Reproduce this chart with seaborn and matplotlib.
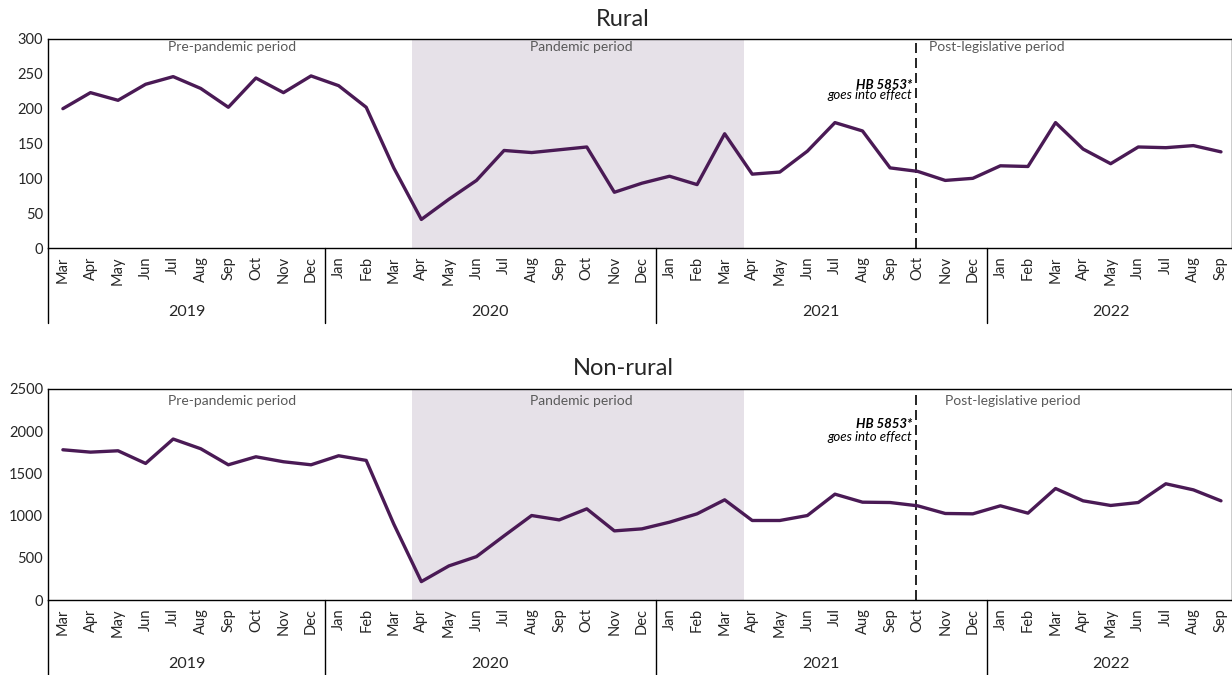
import pandas as pd
import matplotlib.pyplot as plt
import seaborn as sns

months = ['Mar', 'Apr', 'May', 'Jun', 'Jul', 'Aug', 'Sep', 'Oct', 'Nov', 'Dec',
          'Jan', 'Feb', 'Mar', 'Apr', 'May', 'Jun', 'Jul', 'Aug', 'Sep', 'Oct', 'Nov', 'Dec',
          'Jan', 'Feb', 'Mar', 'Apr', 'May', 'Jun', 'Jul', 'Aug', 'Sep', 'Oct', 'Nov', 'Dec',
          'Jan', 'Feb', 'Mar', 'Apr', 'May', 'Jun', 'Jul', 'Aug', 'Sep']
years = ['2019', '2020', '2021', '2022']
year_centers = [4.5, 15.5, 27.5, 38]
year_breaks = [9.5, 21.5, 33.5]

rural = [200, 223, 212, 235, 246, 229, 202, 244, 223, 247,
         233, 202, 115, 41, 70, 97, 140, 137, 141, 145, 80, 93,
         103, 91, 164, 106, 109, 139, 180, 168, 115, 110, 97, 100,
         118, 117, 180, 142, 121, 145, 144, 147, 138]
nonrural = [1780, 1752, 1768, 1618, 1907, 1792, 1602, 1697, 1638, 1602,
            1709, 1654, 900, 218, 404, 514, 760, 1001, 949, 1080, 819, 843,
            922, 1021, 1187, 942, 942, 1001, 1254, 1159, 1155, 1116, 1025, 1021,
            1116, 1029, 1321, 1175, 1120, 1155, 1377, 1305, 1175]

sns.set_style('white')
plt.rcParams['font.family'] = ['Lato', 'DejaVu Sans']

line_color = '#4a1a55'
shade_color = '#e6e1e8'
note_color = '#595959'

fig = plt.figure(figsize=(12.32, 6.75), dpi=100)
W, H = 1232, 675

panels = [
    ('Rural', rural, 39, 248, 300, 50, 0.962, 0.78, 0.732, 31.4),
    ('Non-rural', nonrural, 389, 600, 2500, 500, 0.943, 0.834, 0.773, 32.0),
]

for title, vals, top, bottom, ymax, ystep, lab_y, hb_y, eff_y, post_x in panels:
    ax = fig.add_axes([48 / W, 1 - bottom / H, 1184 / W, (bottom - top) / H])
    df = pd.DataFrame({'idx': range(len(vals)), 'value': vals})
    ax.axvspan(12.66, 24.7, color=shade_color, lw=0, zorder=0)
    sns.lineplot(data=df, x='idx', y='value', ax=ax, color=line_color, lw=2.4, zorder=3)
    ax.axvline(30.95, color='black', ls=(0, (6, 3)), lw=1.2, zorder=2)

    ax.set_xlim(-0.54, 42.4)
    ax.set_ylim(0, ymax)
    ax.set_yticks(range(0, ymax + 1, ystep))
    ax.set_xticks(range(len(months)))
    ax.set_xticklabels(months, rotation=90, fontsize=10.5)
    ax.tick_params(axis='both', length=0, labelsize=10.5)
    ax.tick_params(axis='x', pad=6)
    ax.set_xlabel('')
    ax.set_ylabel('')
    for s in ax.spines.values():
        s.set_color('black')
        s.set_linewidth(1.0)
    ax.text(0.4856, 1.0 + 20 / (bottom - top), title, transform=ax.transAxes,
            ha='center', va='center', fontsize=17)

    # year separators and labels
    trans = ax.get_xaxis_transform()
    for xb in [-0.54] + year_breaks:
        ax.plot([xb, xb], [0, -0.36], color='black', lw=1.0, transform=trans, clip_on=False)
    for yc, yr in zip(year_centers, years):
        ax.text(yc, -0.305, yr, transform=trans, ha='center', va='center', fontsize=11.5)

    ax.text(6.13, lab_y, 'Pre-pandemic period', transform=trans, ha='center', va='center',
            fontsize=10, color=note_color)
    ax.text(18.8, lab_y, 'Pandemic period', transform=trans, ha='center', va='center',
            fontsize=10, color=note_color)
    ax.text(post_x, lab_y, 'Post-legislative period', transform=trans, ha='left', va='center',
            fontsize=10, color=note_color)
    ax.text(30.8, hb_y, 'HB 5853*', transform=trans, ha='right', va='center',
            fontsize=9.5, fontweight='bold', fontstyle='italic', color='black')
    ax.text(30.8, eff_y, 'goes into effect', transform=trans, ha='right', va='center',
            fontsize=9.5, fontstyle='italic', color='black')

fig.savefig('out.png', dpi=100)
